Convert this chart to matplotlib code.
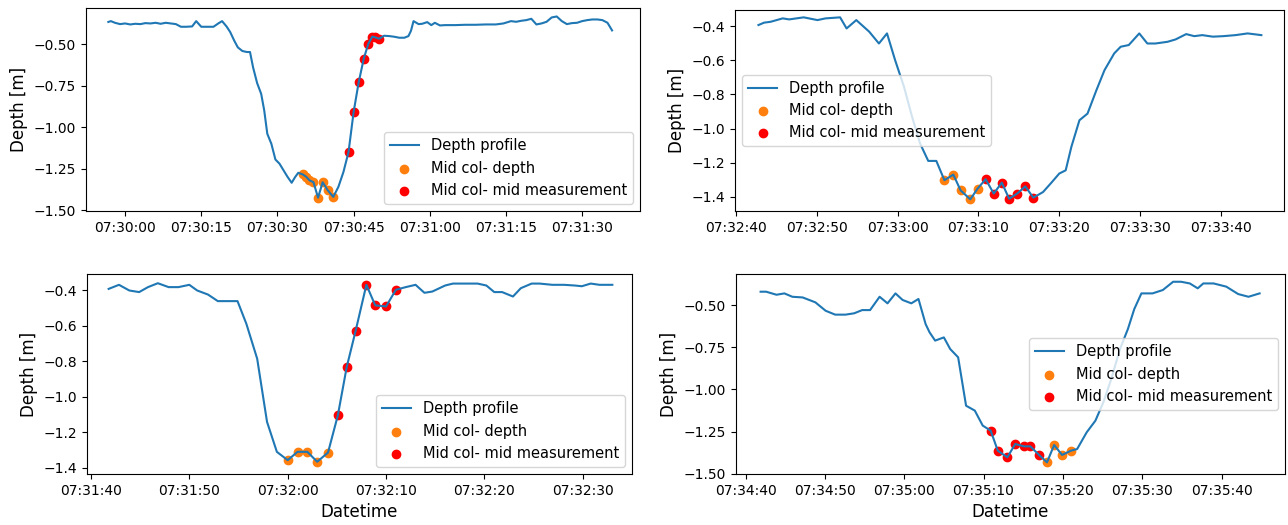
import numpy as np
import pandas as pd
import matplotlib
matplotlib.use('Agg')
import matplotlib.pyplot as plt
import matplotlib.dates as mdates
from matplotlib.ticker import MultipleLocator

day = '2021-06-15 '

# --- run 1 (07:30) ---
t1 = [-3.3, -2.8, -2.0, -1.0, 0.0, 1.0, 2.0, 3.0, 4.0, 5.0, 6.0, 7.0, 8.0, 9.0, 10.0, 11.0,
      12.0, 13.2, 14.0, 15.0, 16.0, 17.4, 18.4, 19.1, 20.0, 20.7, 21.5, 22.2, 23.1, 24.0, 24.6,
      25.2, 26.0, 26.8, 27.4, 28.0, 28.8, 29.6, 30.4, 31.2, 32.0, 32.8, 33.5, 34.1, 35.0, 35.7,
      36.3, 37.1, 38.0, 38.9, 39.9, 41.0, 42.0, 43.0, 44.0, 45.0, 46.0, 47.0, 47.9, 48.7, 49.3,
      50.0, 51.0, 52.0, 53.0, 54.0, 55.0, 55.8, 56.3, 56.8, 57.8, 58.5, 59.5, 60.3, 61.0, 62.0,
      63.0, 65.0, 67.0, 69.0, 71.0, 73.0, 74.5, 76.0, 77.0, 78.0, 79.0, 80.0, 81.0, 82.0, 83.0,
      84.0, 85.0, 86.0, 87.0, 88.0, 89.0, 90.0, 91.0, 92.0, 93.0, 94.0, 95.0, 95.9]
d1 = [-0.367, -0.362, -0.372, -0.380, -0.376, -0.382, -0.378, -0.380, -0.374, -0.376, -0.372,
      -0.378, -0.372, -0.376, -0.380, -0.396, -0.396, -0.394, -0.362, -0.396, -0.396, -0.396,
      -0.375, -0.362, -0.395, -0.428, -0.480, -0.520, -0.542, -0.548, -0.548, -0.640, -0.735,
      -0.800, -0.900, -1.040, -1.100, -1.195, -1.220, -1.260, -1.300, -1.335, -1.300, -1.275,
      -1.285, -1.300, -1.320, -1.332, -1.425, -1.332, -1.380, -1.420, -1.360, -1.270, -1.150,
      -0.910, -0.730, -0.588, -0.498, -0.455, -0.460, -0.468, -0.450, -0.452, -0.456, -0.462,
      -0.462, -0.452, -0.420, -0.362, -0.380, -0.378, -0.368, -0.386, -0.372, -0.388, -0.386,
      -0.386, -0.384, -0.384, -0.382, -0.382, -0.376, -0.362, -0.366, -0.360, -0.356, -0.348,
      -0.382, -0.376, -0.366, -0.340, -0.334, -0.362, -0.380, -0.374, -0.372, -0.362, -0.356,
      -0.352, -0.352, -0.356, -0.372, -0.418]
mid_t1 = [35.0, 35.7, 36.3, 37.1, 38.0, 38.9, 39.9, 41.0]
mid_d1 = [-1.285, -1.300, -1.320, -1.332, -1.425, -1.332, -1.380, -1.420]
meas_t1 = [44.0, 45.0, 46.0, 47.0, 47.9, 48.7, 49.3, 50.0]
meas_d1 = [-1.150, -0.910, -0.730, -0.588, -0.498, -0.455, -0.460, -0.468]

# --- run 2 (07:32:40) ---
t2 = [2.8, 3.5, 4.3, 5.8, 6.6, 8.4, 10.1, 11.1, 12.9, 13.7, 14.9, 16.5, 17.7, 18.7, 19.7, 20.8,
      21.8, 22.8, 23.8, 24.8, 25.8, 26.9, 27.8, 29.0, 29.9, 30.9, 31.9, 32.9, 33.8, 34.8, 35.8,
      36.8, 38.0, 39.0, 40.0, 40.8, 41.5, 42.5, 43.5, 44.6, 45.6, 46.8, 47.6, 48.6, 49.9, 50.9,
      51.9, 53.4, 54.4, 55.7, 56.7, 57.7, 59.0, 60.3, 61.8, 63.3, 65.0]
d2 = [-0.394, -0.380, -0.375, -0.355, -0.361, -0.349, -0.365, -0.355, -0.349, -0.414, -0.365,
      -0.433, -0.502, -0.443, -0.599, -0.755, -0.931, -1.088, -1.189, -1.189, -1.302, -1.269,
      -1.361, -1.414, -1.351, -1.296, -1.380, -1.316, -1.410, -1.380, -1.338, -1.404, -1.371,
      -1.318, -1.263, -1.244, -1.107, -0.951, -0.912, -0.775, -0.658, -0.560, -0.521, -0.511,
      -0.443, -0.502, -0.502, -0.492, -0.478, -0.447, -0.459, -0.453, -0.462, -0.459, -0.453,
      -0.443, -0.453]
mid_t2 = [25.8, 26.9, 27.8, 29.0, 29.9]
mid_d2 = [-1.302, -1.269, -1.361, -1.414, -1.351]
meas_t2 = [30.9, 31.9, 32.9, 33.8, 34.8, 35.8, 36.8]
meas_d2 = [-1.296, -1.380, -1.316, -1.410, -1.380, -1.338, -1.404]

# --- run 3 (07:31:40) ---
t3 = [1.8, 2.85, 3.9, 4.9, 5.8, 6.8, 7.9, 8.9, 10.0, 10.8, 11.9, 12.9, 14.0, 14.9, 15.8, 16.9,
      17.9, 18.9, 20.0, 21.0, 22.0, 23.0, 24.1, 25.1, 26.0, 26.9, 28.0, 28.9, 30.0, 31.0, 32.0,
      33.0, 33.9, 34.7, 36.0, 36.8, 38.1, 39.3, 40.2, 41.0, 41.8, 42.9, 43.7, 44.8, 45.6, 46.9,
      48.1, 49.2, 49.9, 50.8, 51.7, 53.0]
d3 = [-0.391, -0.368, -0.400, -0.409, -0.381, -0.359, -0.381, -0.381, -0.368, -0.400, -0.423,
      -0.460, -0.460, -0.460, -0.588, -0.785, -1.141, -1.310, -1.357, -1.310, -1.310, -1.366,
      -1.314, -1.104, -0.832, -0.629, -0.368, -0.484, -0.490, -0.396, -0.381, -0.368, -0.413,
      -0.406, -0.372, -0.361, -0.361, -0.361, -0.372, -0.409, -0.409, -0.434, -0.387, -0.361,
      -0.361, -0.368, -0.368, -0.372, -0.376, -0.361, -0.368, -0.368]
mid_t3 = [20.0, 21.0, 22.0, 23.0, 24.1]
mid_d3 = [-1.357, -1.310, -1.310, -1.366, -1.314]
meas_t3 = [25.1, 26.0, 26.9, 28.0, 28.9, 30.0, 31.0]
meas_d3 = [-1.104, -0.832, -0.629, -0.368, -0.484, -0.490, -0.396]

# --- run 4 (07:34:40) ---
t4 = [1.9, 2.6, 3.9, 4.9, 5.9, 7.2, 8.8, 10.1, 11.3, 12.6, 13.7, 14.7, 15.7, 16.9, 17.9, 18.9,
      19.8, 20.9, 21.8, 22.7, 23.2, 23.9, 25.0, 25.8, 26.8, 27.8, 28.9, 29.9, 30.9, 31.8, 33.0,
      34.0, 35.1, 35.9, 37.0, 38.0, 38.9, 39.9, 41.0, 41.8, 43.0, 44.1, 45.1, 46.1, 47.2, 48.2,
      49.0, 49.9, 51.3, 52.6, 53.9, 54.9, 56.0, 57.0, 57.7, 59.0, 60.6, 62.1, 63.4, 64.8]
d4 = [-0.421, -0.421, -0.439, -0.431, -0.451, -0.455, -0.484, -0.534, -0.557, -0.557, -0.549,
      -0.530, -0.530, -0.451, -0.490, -0.431, -0.470, -0.490, -0.464, -0.613, -0.662, -0.711,
      -0.692, -0.761, -0.810, -1.097, -1.126, -1.215, -1.245, -1.364, -1.403, -1.324, -1.338,
      -1.338, -1.389, -1.433, -1.330, -1.389, -1.364, -1.354, -1.255, -1.186, -1.077, -0.939,
      -0.761, -0.642, -0.524, -0.431, -0.431, -0.411, -0.362, -0.362, -0.372, -0.401, -0.372,
      -0.372, -0.391, -0.435, -0.451, -0.431]
mid_t4 = [38.0, 38.9, 39.9, 41.0]
mid_d4 = [-1.433, -1.330, -1.389, -1.364]
meas_t4 = [30.9, 31.8, 33.0, 34.0, 35.1, 35.9, 37.0]
meas_d4 = [-1.245, -1.364, -1.403, -1.324, -1.338, -1.338, -1.389]

runs = [
    ('07:30:00', t1, d1, mid_t1, mid_d1, meas_t1, meas_d1),
    ('07:32:40', t2, d2, mid_t2, mid_d2, meas_t2, meas_d2),
    ('07:31:40', t3, d3, mid_t3, mid_d3, meas_t3, meas_d3),
    ('07:34:40', t4, d4, mid_t4, mid_d4, meas_t4, meas_d4),
]

W, H = 1288, 525
# axes boxes in pixels: left, top, right, bottom
boxes = [(86, 8, 640, 211), (735, 10, 1284, 211), (87, 274, 632, 474), (736, 274, 1285, 474)]
tick_step = [15, 10, 10, 10]
ytick_step = [0.25, 0.2, 0.2, 0.25]
xspan = [(-7.7, 101.4), (-0.1, 67.8), (-0.4, 55.0), (-1.2, 68.0)]
yspan = [(-1.505, -0.283), (-1.482, -0.306), (-1.435, -0.307), (-1.502, -0.316)]
legend_loc = ['lower right', 'center left', 'lower right', 'center right']


def stamp(base, secs):
    return pd.Timestamp(day + base) + pd.to_timedelta(np.array(secs), unit='s')


fig = plt.figure(figsize=(W / 100, H / 100), dpi=100)

for i, (base, t, d, mt, md, rt, rd) in enumerate(runs):
    x0, y0, x1, y1 = boxes[i]
    ax = fig.add_axes([x0 / W, 1 - y1 / H, (x1 - x0) / W, (y1 - y0) / H])
    ax.plot(stamp(base, t), d, label='Depth profile')
    ax.scatter(stamp(base, mt), md, color='C1', label='Mid col- depth')
    ax.scatter(stamp(base, rt), rd, color='red', label='Mid col- mid measurement')
    ax.set_xlim(stamp(base, xspan[i]))
    ax.set_ylim(yspan[i])
    ax.xaxis.set_major_locator(mdates.SecondLocator(bysecond=range(0, 60, tick_step[i])))
    ax.xaxis.set_major_formatter(mdates.DateFormatter('%H:%M:%S'))
    ax.yaxis.set_major_locator(MultipleLocator(ytick_step[i]))
    ax.set_ylabel('Depth [m]', fontsize=12)
    if i >= 2:
        ax.set_xlabel('Datetime', fontsize=12)
    ax.legend(loc=legend_loc[i], fontsize=10.5)

fig.savefig('out.png', dpi=100)
